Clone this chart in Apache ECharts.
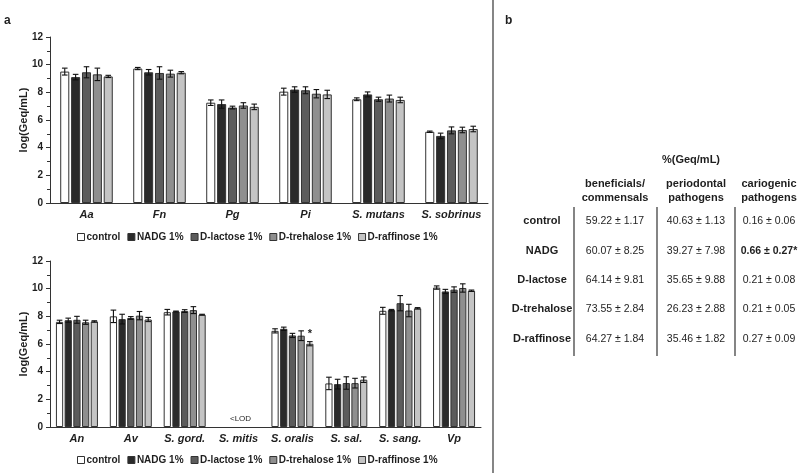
<!DOCTYPE html>
<html>
<head>
<meta charset="utf-8">
<script src="https://cdn.jsdelivr.net/npm/echarts@6/dist/echarts.min.js"></script>
<style>html,body{margin:0;padding:0;background:#fff}#c{width:800px;height:473px}</style>
</head>
<body>
<div id="c"></div>
<script>
// ---------- data ----------
const treatments = ['control', 'NADG 1%', 'D-lactose 1%', 'D-trehalose 1%', 'D-raffinose 1%'];
const topCategories = ['Aa', 'Fn', 'Pg', 'Pi', 'S. mutans', 'S. sobrinus'];
const bottomCategories = ['An', 'Av', 'S. gord.', 'S. mitis', 'S. oralis', 'S. sal.', 'S. sang.', 'Vp'];
const yTicks = [0, 2, 4, 6, 8, 10, 12];

const topControl   = [9.50, 9.72, 7.25, 8.05, 7.50, 5.15];
const topNADG      = [9.10, 9.45, 7.15, 8.20, 7.85, 4.85];
const topLactose   = [9.45, 9.40, 6.90, 8.15, 7.50, 5.25];
const topTrehalose = [9.30, 9.35, 7.05, 7.90, 7.55, 5.28];
const topRaffinose = [9.15, 9.42, 6.95, 7.85, 7.45, 5.35];
const topControlSD   = [0.25, 0.08, 0.20, 0.25, 0.10, 0.05];
const topNADGSD      = [0.20, 0.20, 0.30, 0.20, 0.18, 0.20];
const topLactoseSD   = [0.40, 0.45, 0.10, 0.25, 0.15, 0.25];
const topTrehaloseSD = [0.45, 0.25, 0.20, 0.30, 0.25, 0.20];
const topRaffinoseSD = [0.08, 0.08, 0.20, 0.30, 0.20, 0.20];

const botControl   = [7.60, 8.00, 8.30, null, 6.95, 3.15, 8.40, 10.08];
const botNADG      = [7.72, 7.80, 8.35, null, 7.10, 3.10, 8.45, 9.80];
const botLactose   = [7.75, 7.88, 8.38, null, 6.62, 3.18, 8.95, 9.93];
const botTrehalose = [7.57, 8.05, 8.45, null, 6.60, 3.17, 8.42, 10.05];
const botRaffinose = [7.63, 7.77, 8.12, null, 6.02, 3.42, 8.58, 9.85];
const botControlSD   = [0.12, 0.45, 0.20, null, 0.15, 0.45, 0.25, 0.12];
const botNADGSD      = [0.15, 0.35, 0.03, null, 0.12, 0.35, 0.05, 0.15];
const botLactoseSD   = [0.25, 0.10, 0.10, null, 0.15, 0.45, 0.55, 0.20];
const botTrehaloseSD = [0.15, 0.30, 0.25, null, 0.35, 0.35, 0.45, 0.30];
const botRaffinoseSD = [0.05, 0.15, 0.03, null, 0.15, 0.20, 0.05, 0.05];
// significance marks (bottom panel, D-raffinose, S. oralis)
const botRaffinoseMarks = ['', '', '', '', '*', '', '', ''];
const lodCategory = 'S. mitis';
const lodText = '<LOD';

// table (panel b)
const tableTitle = '%(Geq/mL)';
const tableGroups = ['beneficials/\ncommensals', 'periodontal\npathogens', 'cariogenic\npathogens'];
const tableRows = ['control', 'NADG', 'D-lactose', 'D-trehalose', 'D-raffinose'];
const beneficialMean = [59.22, 60.07, 64.14, 73.55, 64.27];
const beneficialSD   = [1.17, 8.25, 9.81, 2.84, 1.84];
const periodontalMean = [40.63, 39.27, 35.65, 26.23, 35.46];
const periodontalSD   = [1.13, 7.98, 9.88, 2.88, 1.82];
const cariogenicMean = [0.16, 0.66, 0.21, 0.21, 0.27];
const cariogenicSD   = [0.06, 0.27, 0.08, 0.05, 0.09];
const cariogenicSig  = ['', '*', '', '', ''];

// ---------- styling ----------
const colors = ['#ffffff', '#2a2a2a', '#5c5c5c', '#8f8f8f', '#c4c4c4'];
const txt = '#1e1e1e';
const FONT = 'Liberation Sans, Arial, sans-serif';

const topMeans = [topControl, topNADG, topLactose, topTrehalose, topRaffinose];
const topSDs = [topControlSD, topNADGSD, topLactoseSD, topTrehaloseSD, topRaffinoseSD];
const botMeans = [botControl, botNADG, botLactose, botTrehalose, botRaffinose];
const botSDs = [botControlSD, botNADGSD, botLactoseSD, botTrehaloseSD, botRaffinoseSD];
const botMarks = [null, null, null, null, botRaffinoseMarks];

const panels = [
  {cats: topCategories, means: topMeans, sds: topSDs, marks: [null,null,null,null,null], catGap: 0.28, barGap: 0.2},
  {cats: bottomCategories, means: botMeans, sds: botSDs, marks: botMarks, catGap: 0.22, barGap: 0.2}
];

function errRenderer(idx, n, catGap, barGap, marks) {
  return function (params, api) {
    const x = api.value(0), y = api.value(1), sd = api.value(2);
    if (isNaN(y)) return;
    const band = api.size([1, 0])[0];
    const avail = band * (1 - catGap);
    const w = avail / (n + (n - 1) * barGap);
    const total = n * w + (n - 1) * barGap * w;
    const cx = api.coord([x, y])[0] - total / 2 + idx * w * (1 + barGap) + w / 2;
    const yt = api.coord([x, y + sd])[1];
    const yb = api.coord([x, y - sd])[1];
    const cap = 2.8;
    const st = {stroke: '#111', lineWidth: 1.1};
    const children = [
      {type: 'line', shape: {x1: cx, y1: yt, x2: cx, y2: yb}, style: st},
      {type: 'line', shape: {x1: cx - cap, y1: yt, x2: cx + cap, y2: yt}, style: st},
      {type: 'line', shape: {x1: cx - cap, y1: yb, x2: cx + cap, y2: yb}, style: st}
    ];
    const m = marks ? marks[params.dataIndex] : '';
    if (m) {
      children.push({type: 'text', style: {text: m, x: cx, y: yt - 2, align: 'center', verticalAlign: 'bottom',
        fill: txt, font: 'bold 11px ' + FONT}});
    }
    return {type: 'group', children};
  };
}

const grids = [
  {left: 50, top: 37, width: 438, height: 166},
  {left: 50, top: 261, width: 431, height: 166}
];
const xAxes = [], yAxes = [], series = [];
panels.forEach((p, gi) => {
  xAxes.push({
    type: 'category', gridIndex: gi, data: p.cats,
    axisLine: {lineStyle: {color: '#333', width: 1}},
    axisTick: {show: false},
    axisLabel: {color: txt, fontFamily: FONT, fontWeight: 'bold', fontStyle: 'italic', fontSize: 11, margin: 6, interval: 0}
  });
  yAxes.push({
    type: 'value', gridIndex: gi, min: yTicks[0], max: yTicks[yTicks.length - 1], interval: 2,
    name: 'log(Geq/mL)', nameLocation: 'middle', nameGap: 21, nameRotate: 90, nameMoveOverlap: false,
    nameTextStyle: {color: txt, fontFamily: FONT, fontWeight: 'bold', fontSize: 11},
    axisLine: {show: true, lineStyle: {color: '#333', width: 1}},
    axisTick: {show: true, length: 4, lineStyle: {color: '#333'}},
    minorTick: {show: true, splitNumber: 2, length: 3, lineStyle: {color: '#333'}},
    splitLine: {show: false},
    axisLabel: {color: txt, fontFamily: FONT, fontWeight: 'bold', fontSize: 10, margin: 7}
  });
  treatments.forEach((t, i) => {
    series.push({
      type: 'bar', name: t, xAxisIndex: gi, yAxisIndex: gi,
      data: p.means[i],
      barCategoryGap: (p.catGap * 100) + '%', barGap: (p.barGap * 100) + '%',
      itemStyle: {color: colors[i], borderColor: '#333', borderWidth: 1},
      emphasis: {disabled: true}, animation: false
    });
  });
  treatments.forEach((t, i) => {
    series.push({
      type: 'custom', name: t, xAxisIndex: gi, yAxisIndex: gi, z: 5,
      renderItem: errRenderer(i, treatments.length, p.catGap, p.barGap, p.marks[i]),
      data: p.means[i].map((v, k) => [k, v == null ? NaN : v, p.sds[i][k] == null ? 0 : p.sds[i][k]]),
      animation: false, silent: true
    });
  });
});
// <LOD label
series.push({
  type: 'custom', xAxisIndex: 1, yAxisIndex: 1, z: 6, silent: true, animation: false,
  data: [[bottomCategories.indexOf(lodCategory), 0]],
  renderItem: function (params, api) {
    const pt = api.coord([api.value(0), api.value(1)]);
    return {type: 'text', style: {text: lodText, x: pt[0] + 2, y: pt[1] - 4, align: 'center', verticalAlign: 'bottom',
      fill: txt, font: '8px ' + FONT}};
  }
});

const legendBase = {
  data: treatments.map((t, i) => ({name: t, icon: 'rect', itemStyle: {color: colors[i], borderColor: '#333', borderWidth: 1}})),
  itemWidth: 7, itemHeight: 7, itemGap: 7, selectedMode: false,
  textStyle: {color: txt, fontFamily: FONT, fontWeight: 'bold', fontSize: 10, padding: [0, 0, 0, -3]}
};

// table graphics
const graphics = [];
const T = {font: '10.5px ' + FONT, fill: txt};
const TB = {font: 'bold 10.5px ' + FONT, fill: txt};
const TH = {font: 'bold 11px ' + FONT, fill: txt};
graphics.push({type: 'text', x: 4, y: 21, style: {text: 'a', font: 'bold 12px ' + FONT, fill: txt, verticalAlign: 'middle'}});
graphics.push({type: 'text', x: 505, y: 21, style: {text: 'b', font: 'bold 12px ' + FONT, fill: txt, verticalAlign: 'middle'}});
graphics.push({type: 'line', shape: {x1: 493, y1: 0, x2: 493, y2: 473}, style: {stroke: '#444', lineWidth: 1.3}});
const colX = [615, 696, 769];
const rowY = [221, 251, 280, 309, 339];
graphics.push({type: 'text', x: 691, y: 160, style: Object.assign({text: tableTitle, align: 'center', verticalAlign: 'middle'}, TH)});
tableGroups.forEach((g, j) => {
  graphics.push({type: 'text', x: colX[j], y: 191, style: Object.assign({text: g, align: 'center', verticalAlign: 'middle', lineHeight: 14}, TH)});
});
const cols = [[beneficialMean, beneficialSD, null], [periodontalMean, periodontalSD, null], [cariogenicMean, cariogenicSD, cariogenicSig]];
tableRows.forEach((r, i) => {
  graphics.push({type: 'text', x: 542, y: rowY[i], style: Object.assign({text: r, align: 'center', verticalAlign: 'middle'}, TH)});
  cols.forEach((c, j) => {
    const sig = c[2] ? c[2][i] : '';
    const s = c[0][i].toFixed(2) + ' ± ' + c[1][i].toFixed(2) + sig;
    graphics.push({type: 'text', x: colX[j], y: rowY[i], style: Object.assign({text: s, align: 'center', verticalAlign: 'middle'}, sig ? TB : T)});
  });
});
[574, 657, 735].forEach(x => {
  graphics.push({type: 'line', shape: {x1: x, y1: 207, x2: x, y2: 356}, style: {stroke: '#333', lineWidth: 1.2}});
});

const chart = echarts.init(document.getElementById('c'), null, {renderer: 'canvas'});
chart.setOption({
  backgroundColor: '#fff',
  animation: false,
  grid: grids,
  xAxis: xAxes,
  yAxis: yAxes,
  legend: [
    Object.assign({top: 227, left: 72}, legendBase),
    Object.assign({top: 450, left: 72}, legendBase)
  ],
  series: series,
  graphic: graphics
});
</script>
</body>
</html>
